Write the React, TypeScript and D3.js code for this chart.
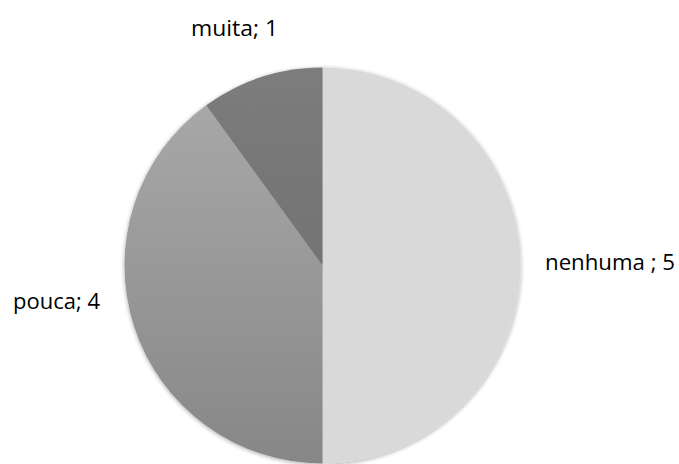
import React from "react";
import * as d3 from "d3";

const categories = ["nenhuma", "pouca", "muita"];
const values = [5, 4, 1];
const labelTexts = ["nenhuma ; 5", "pouca; 4", "muita; 1"];
const colorsTop = ["#d9d9d9", "#ababab", "#7c7c7c"];
const colorsBottom = ["#d9d9d9", "#878787", "#6a6a6a"];

export default function App() {
  const W = 679, H = 464;
  const cx = 322.5, cy = 265.5, r = 198;
  const pie = d3.pie<number>().sort(null).value((d) => d);
  const arcs = pie(values);
  const arcGen = d3.arc<d3.PieArcDatum<number>>().innerRadius(0).outerRadius(r);
  const labelPos: [number, number, number][] = [
    [545, 270, 130],
    [13, 309, 87],
    [191, 36, 87],
  ];
  return (
    <svg width={W} height={H} style={{ position: "absolute", left: 0, top: 0, background: "#fff" }}>
      <defs>
        <filter id="sh" x="-10%" y="-10%" width="120%" height="120%">
          <feDropShadow dx="0" dy="1" stdDeviation="2" floodColor="#000" floodOpacity="0.35" />
        </filter>
        {categories.map((c, i) => (
          <linearGradient key={c} id={`g${i}`} gradientUnits="userSpaceOnUse" x1={0} y1={-r} x2={0} y2={r}>
            <stop offset="0" stopColor={colorsTop[i]} />
            <stop offset="1" stopColor={colorsBottom[i]} />
          </linearGradient>
        ))}
      </defs>
      <g transform={`translate(${cx},${cy})`} filter="url(#sh)">
        {arcs.map((a, i) => (
          <path key={categories[i]} d={arcGen(a) || ""} fill={`url(#g${i})`} />
        ))}
      </g>
      {labelPos.map(([x, y, len], i) => (
        <text key={i} x={x} y={y} textLength={len} lengthAdjust="spacingAndGlyphs" fontFamily="'Open Sans', sans-serif" fontSize={21} fill="#000">
          {labelTexts[i]}
        </text>
      ))}
    </svg>
  );
}
